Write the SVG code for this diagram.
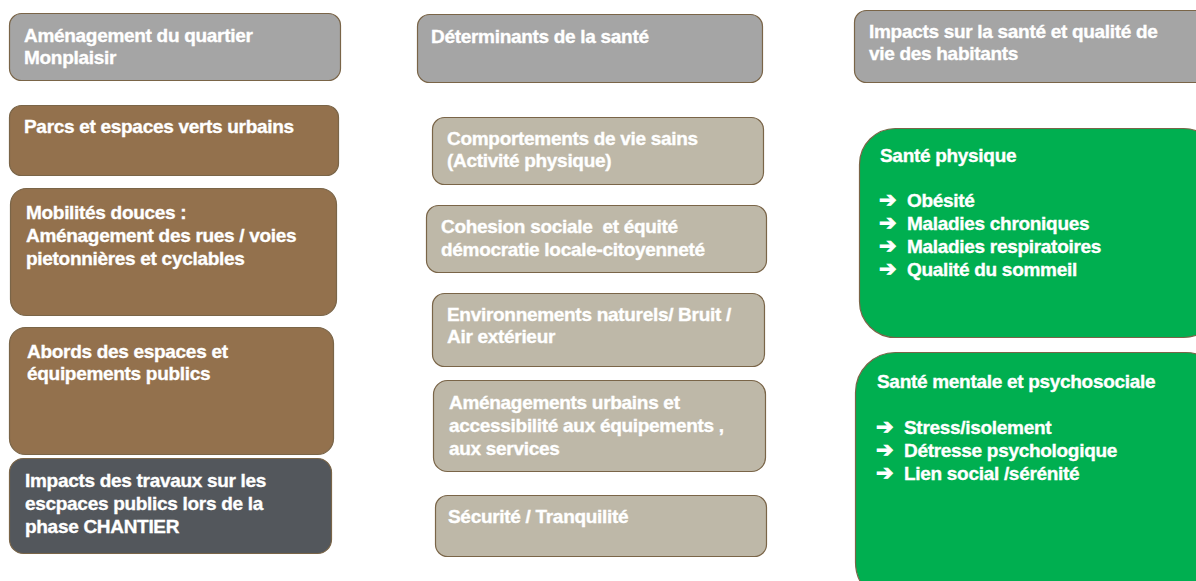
<svg xmlns="http://www.w3.org/2000/svg" width="1196" height="581" viewBox="0 0 1196 581">
<style>
.b{stroke:#7a6548;stroke-width:1.2}
.g{fill:#A5A5A5}
.br{fill:#93714D}
.dk{fill:#53575C}
.lt{fill:#BEB8A8}
.gr{fill:#00AF50}
text{font-family:"Liberation Sans",Arial,sans-serif;font-weight:bold;font-size:19px;fill:#fff;stroke:#fff;stroke-width:0.35;letter-spacing:-0.3px}
.ar{font-family:"DejaVu Sans",sans-serif;font-size:21px;stroke-width:0.9}
</style>
<rect width="1196" height="581" fill="#fff"/>
<g id="connectors"></g>
<g id="n1"><rect class="b g" x="9.5" y="13.5" width="331" height="67" rx="12"/><text x="24" y="42">Aménagement du quartier</text><text x="24" y="64">Monplaisir</text></g>
<g id="n2"><rect class="b br" x="9.5" y="105.5" width="329" height="70" rx="12"/><text x="24" y="133">Parcs et espaces verts urbains</text></g>
<g id="n3"><rect class="b br" x="10.5" y="188.5" width="326" height="127" rx="16"/><text x="26" y="219">Mobilités douces :</text><text x="26" y="242">Aménagement des rues / voies</text><text x="26" y="265">pietonnières et cyclables</text></g>
<g id="n4"><rect class="b br" x="9.5" y="327.5" width="324" height="127" rx="16"/><text x="27" y="358">Abords des espaces et</text><text x="27" y="380">équipements publics</text></g>
<g id="n5"><rect class="b dk" x="9.5" y="458.5" width="322" height="95" rx="14"/><text x="25" y="487">Impacts des travaux sur les</text><text x="25" y="510">escpaces publics lors de la</text><text x="25" y="533">phase CHANTIER</text></g>
<g id="m0"><rect class="b g" x="417.5" y="14.5" width="345" height="68" rx="12"/><text x="431" y="43">Déterminants de la santé</text></g>
<g id="m1"><rect class="b lt" x="432.5" y="117.5" width="331" height="67" rx="12"/><text x="447" y="145">Comportements de vie sains</text><text x="447" y="167">(Activité physique)</text></g>
<g id="m2"><rect class="b lt" x="426.5" y="205.5" width="340" height="67" rx="12"/><text x="441" y="233" xml:space="preserve">Cohesion sociale  et équité</text><text x="441" y="256">démocratie locale-citoyenneté</text></g>
<g id="m3"><rect class="b lt" x="432.5" y="293.5" width="332" height="73" rx="12"/><text x="447" y="321">Environnements naturels/ Bruit /</text><text x="447" y="343">Air extérieur</text></g>
<g id="m4"><rect class="b lt" x="433.5" y="380.5" width="332" height="91" rx="14"/><text x="449" y="409">Aménagements urbains et</text><text x="449" y="432">accessibilité aux équipements ,</text><text x="449" y="455">aux services</text></g>
<g id="m5"><rect class="b lt" x="435.5" y="495.5" width="331" height="61" rx="12"/><text x="448" y="523">Sécurité / Tranquilité</text></g>
<g id="r0"><rect class="b g" x="854.5" y="10.5" width="360" height="72" rx="12"/><text x="869" y="38">Impacts sur la santé et qualité de</text><text x="869" y="60">vie des habitants</text></g>
<g id="r1"><rect class="b gr" x="859.5" y="128.5" width="360" height="209" rx="36"/><text x="880" y="162">Santé physique</text>
<text x="879" y="207"><tspan class="ar">➔</tspan><tspan x="907">Obésité</tspan></text>
<text x="879" y="230"><tspan class="ar">➔</tspan><tspan x="907">Maladies chroniques</tspan></text>
<text x="879" y="253"><tspan class="ar">➔</tspan><tspan x="907">Maladies respiratoires</tspan></text>
<text x="879" y="276"><tspan class="ar">➔</tspan><tspan x="907">Qualité du sommeil</tspan></text></g>
<g id="r2"><rect class="b gr" x="855.5" y="352.5" width="370" height="250" rx="40"/><text x="877" y="388">Santé mentale et psychosociale</text>
<text x="876" y="434"><tspan class="ar">➔</tspan><tspan x="904">Stress/isolement</tspan></text>
<text x="876" y="457"><tspan class="ar">➔</tspan><tspan x="904">Détresse psychologique</tspan></text>
<text x="876" y="480"><tspan class="ar">➔</tspan><tspan x="904">Lien social /sérénité</tspan></text></g>
</svg>
